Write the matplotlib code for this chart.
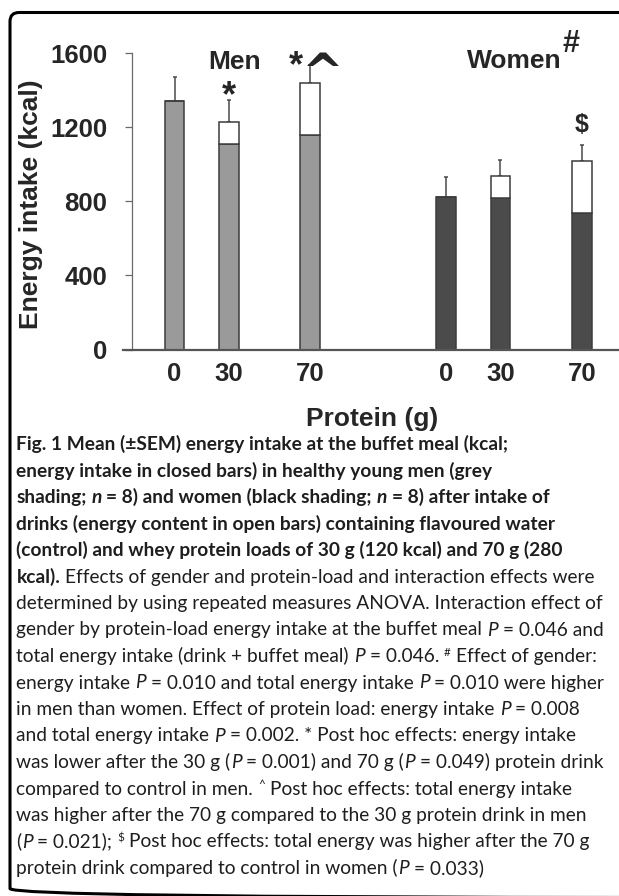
import numpy as np
import matplotlib.pyplot as plt
from matplotlib.patches import FancyBboxPatch

# buffet meal energy intake (closed bars), kcal
protein = ['0', '30', '70']
men_meal = [1342, 1110, 1158]
women_meal = [823, 818, 735]
# energy content of the drinks (open bars), kcal
drink_kcal = [0, 120, 280]
# SEM of total energy intake
men_sem = [127, 116, 99]
women_sem = [107, 84, 86]

caption = [
    [('b', 'Fig. 1 Mean (±SEM) energy intake at the buffet meal (kcal;')],
    [('b', 'energy intake in closed bars) in healthy young men (grey')],
    [('b', 'shading; '), ('bi', 'n'), ('b', ' = 8) and women (black shading; '), ('bi', 'n'),
     ('b', ' = 8) after intake of')],
    [('b', 'drinks (energy content in open bars) containing flavoured water')],
    [('b', '(control) and whey protein loads of 30 g (120 kcal) and 70 g (280')],
    [('b', 'kcal).'), ('r', ' Effects of gender and protein-load and interaction effects were')],
    [('r', 'determined by using repeated measures ANOVA. Interaction effect of')],
    [('r', 'gender by protein-load energy intake at the buffet meal '), ('i', 'P'), ('r', ' = 0.046 and')],
    [('r', 'total energy intake (drink + buffet meal) '), ('i', 'P'), ('r', ' = 0.046. '),
     ('s', '#'), ('r', ' Effect of gender:')],
    [('r', 'energy intake '), ('i', 'P'), ('r', ' = 0.010 and total energy intake '), ('i', 'P'),
     ('r', ' = 0.010 were higher')],
    [('r', 'in men than women. Effect of protein load: energy intake '), ('i', 'P'), ('r', ' = 0.008')],
    [('r', 'and total energy intake '), ('i', 'P'), ('r', ' = 0.002. * Post hoc effects: energy intake')],
    [('r', 'was lower after the 30 g ('), ('i', 'P'), ('r', ' = 0.001) and 70 g ('), ('i', 'P'),
     ('r', ' = 0.049) protein drink')],
    [('r', 'compared to control in men. '), ('s', '^'), ('r', ' Post hoc effects: total energy intake')],
    [('r', 'was higher after the 70 g compared to the 30 g protein drink in men')],
    [('r', '('), ('i', 'P'), ('r', ' = 0.021); '), ('s', '$'),
     ('r', ' Post hoc effects: total energy was higher after the 70 g')],
    [('r', 'protein drink compared to control in women ('), ('i', 'P'), ('r', ' = 0.033)')],
]

W, H = 619, 896
fig = plt.figure(figsize=(W / 100, H / 100), dpi=100)

# overlay in pixel coordinates for the frame and the caption
ov = fig.add_axes([0, 0, 1, 1])
ov.set_xlim(0, W)
ov.set_ylim(H, 0)
ov.axis('off')
frame = FancyBboxPatch((10, 12.5), 660, 885, boxstyle='round,pad=0,rounding_size=9',
                       fc='none', ec='black', lw=2.2, clip_on=False)
ov.add_patch(frame)

# chart axes
unit = 54.3
x0 = 174.5
ax = fig.add_axes([123 / W, 1 - 349.5 / H, (W - 123) / W, (349.5 - 53) / H])
ax.set_xlim((123 - x0) / unit, (W - x0) / unit)
ax.set_ylim(0, 1600)
xm = np.array([0, 1, 2.5])
xw = np.array([5, 6, 7.5])

cfont = 'Liberation Sans'
txt = '#262626'
edge = '#3c3c3c'
bw = 0.36

ax.bar(xm, men_meal, width=bw, color='#9a9a9a', edgecolor=edge, lw=1.1, zorder=2)
ax.bar(xm, drink_kcal, bottom=men_meal, width=bw, color='white', edgecolor=edge, lw=1.1, zorder=2)
ax.bar(xw, women_meal, width=bw, color='#4b4b4b', edgecolor=edge, lw=1.1, zorder=2)
ax.bar(xw, drink_kcal, bottom=women_meal, width=bw, color='white', edgecolor=edge, lw=1.1, zorder=2)

men_tot = np.array(men_meal) + np.array(drink_kcal)
women_tot = np.array(women_meal) + np.array(drink_kcal)
for xs, tot, sem in [(xm, men_tot, men_sem), (xw, women_tot, women_sem)]:
    ax.errorbar(xs, tot, yerr=[np.zeros(3), sem], fmt='none', ecolor='#4a4a4a',
                elinewidth=1.1, capsize=1.6, capthick=1.1, zorder=1)

for s in ['top', 'right']:
    ax.spines[s].set_visible(False)
ax.spines['left'].set_position(('data', (132 - x0) / unit))
ax.spines['left'].set_color('#6a6a6a')
ax.spines['left'].set_linewidth(0.9)
ax.spines['bottom'].set_color('#555555')
ax.spines['bottom'].set_linewidth(1.6)

ax.set_yticks([0, 400, 800, 1200, 1600])
ax.tick_params(axis='y', length=5, width=0.9, color='#6a6a6a', pad=13)
ax.set_xticks(np.concatenate([xm, xw]), protein + protein)
ax.tick_params(axis='x', length=0, pad=9)
for lab in ax.get_xticklabels() + ax.get_yticklabels():
    lab.set_fontfamily(cfont)
    lab.set_fontweight('bold')
    lab.set_fontsize(18.5)
    lab.set_color(txt)

lab_kw = dict(family=cfont, weight='bold', fontsize=19, color=txt)
ov.text(31, 204, 'Energy intake (kcal)', rotation=90, ha='center', va='center', **lab_kw)
ov.text(372, 419, 'Protein (g)', ha='center', va='center', **lab_kw)

# group labels and significance marks
ax.text(1.1, 1552, 'Men', ha='center', va='center', **lab_kw)
ax.text(6.25, 1555, 'Women', ha='center', va='center', **lab_kw)
ax.text(7.30, 1649, '#', ha='center', va='center', family=cfont, weight='bold', fontsize=22, color=txt)
star_kw = dict(ha='center', va='center', family=cfont, weight='bold', fontsize=26, color=txt)
ax.text(xm[1], men_tot[1] + men_sem[1] + 20, '*', **star_kw)
ax.text(xm[2] - 0.26, men_tot[2] + men_sem[2] - 10, '*', **star_kw)
ax.text(xm[2] + 0.23, men_tot[2] + men_sem[2] - 57, '^', ha='center', va='center',
        family='DejaVu Sans', weight='bold', fontsize=36, color=txt)
ax.text(xw[2], women_tot[2] + women_sem[2] + 110, '$', ha='center', va='center',
        family=cfont, weight='bold', fontsize=18, color=txt)

# caption with mixed styles
cap = 'Lato'
csize = 13.8
styles = {
    'b': dict(family=cap, weight='bold', fontsize=csize),
    'bi': dict(family=cap, weight='bold', style='italic', fontsize=csize),
    'r': dict(family=cap, weight='normal', fontsize=csize),
    'i': dict(family=cap, weight='normal', style='italic', fontsize=csize),
    's': dict(family=cap, weight='normal', fontsize=8.5),
}
renderer = fig.canvas.get_renderer()


def width_of(s, kw):
    t = ov.text(0, 0, s, **kw)
    w = t.get_window_extent(renderer).width
    t.remove()
    return w


space_w = {k: width_of('a a', kw) - width_of('aa', kw) for k, kw in styles.items()}

y = 450
for line in caption:
    x = 16.5
    for st, s in line:
        kw = styles[st]
        lead = len(s) - len(s.lstrip(' '))
        trail = len(s) - len(s.rstrip(' '))
        x += lead * space_w[st]
        core = s.strip(' ')
        dy = -6 if st == 's' else 0
        t = ov.text(x, y + dy, core, ha='left', va='baseline', color='#1e1e1e', **kw)
        x += t.get_window_extent(renderer).width + trail * space_w[st]
    y += 26.5

fig.savefig('out.png', dpi=100)
